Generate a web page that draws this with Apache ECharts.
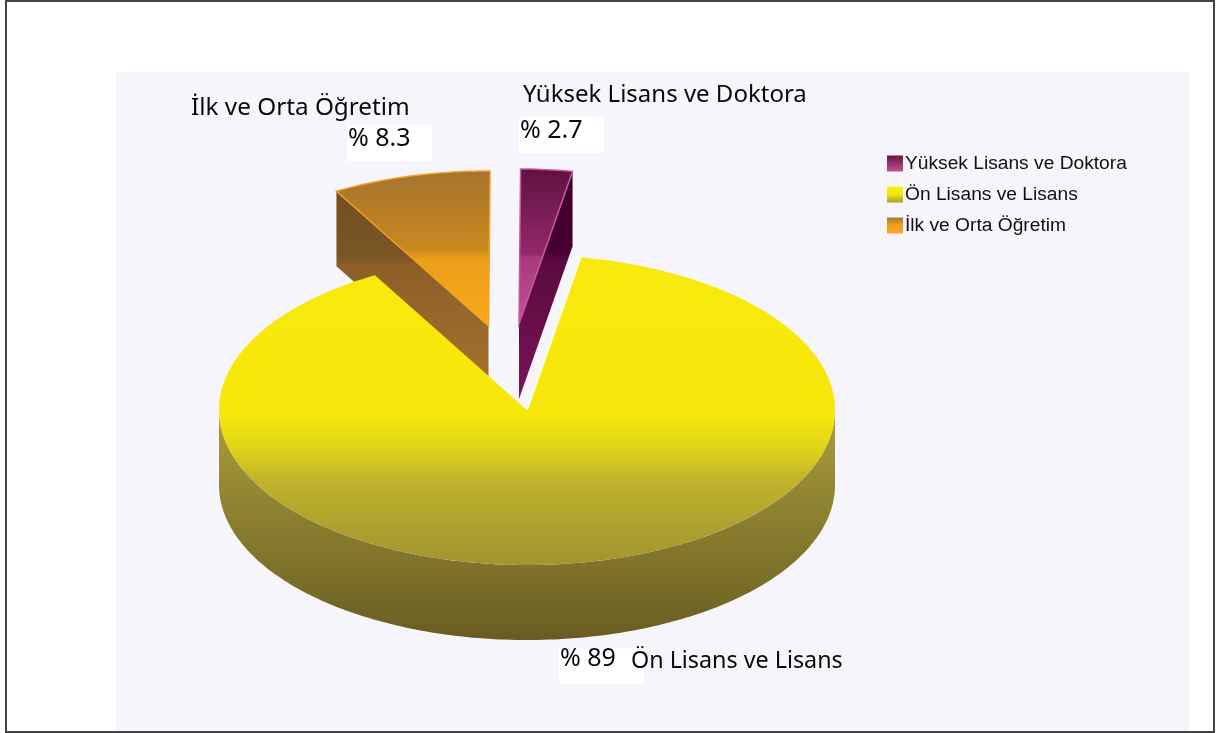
<!DOCTYPE html>
<html><head><meta charset="utf-8">
<style>html,body{margin:0;padding:0;background:#fff}#c{width:1218px;height:733px}</style>
<script src="https://cdn.jsdelivr.net/npm/echarts@6/dist/echarts.min.js"></script>
</head><body><div id="c"></div>
<script>
const categories = ['Yüksek Lisans ve Doktora', 'Ön Lisans ve Lisans', 'İlk ve Orta Öğretim'];
const values = [2.7, 89, 8.3];
const valueLabels = ['% 2.7', '% 89', '% 8.3'];

const rx = 308, ry = 155, depth = 75, startAngle = 0.3;
const centers = [[519, 324], [527, 410], [488.5, 326]];

function vgrad(y1, y2, stops) {
  return { type: 'linear', x: 0, y: y1, x2: 0, y2: y2, global: true,
    colorStops: stops.map(s => ({ offset: s[0], color: s[1] })) };
}
function localGrad(stops) {
  return { type: 'linear', x: 0, y: 0, x2: 0, y2: 1,
    colorStops: stops.map(s => ({ offset: s[0], color: s[1] })) };
}
const topFill = [
  vgrad(170, 323, [[0,'#5f1242'],[0.55,'#93296a'],[0.57,'#a8397b'],[1,'#c4509a']]),
  vgrad(255, 566, [[0,'#f8ea0c'],[0.51,'#f7e70a'],[0.62,'#e0d518'],[0.72,'#c2b42a'],[0.88,'#ada030'],[1,'#a29430']]),
  vgrad(172, 325, [[0,'#a5742f'],[0.5,'#c9871f'],[0.57,'#eb9e1b'],[1,'#fba91b']])
];
const sideFill = [
  vgrad(172, 400, [[0,'#3d0029'],[0.35,'#470030'],[0.38,'#5a0a3f'],[1,'#7a1458']]),
  vgrad(420, 642, [[0,'#a99c3c'],[0.4,'#8c8230'],[0.7,'#7c7029'],[1,'#675b22']]),
  vgrad(195, 400, [[0,'#735022'],[0.3,'#7a5524'],[0.35,'#8c5f28'],[1,'#a87330']])
];
const edgeColor = ['#c9589f', '#f8e80c', '#f2a31f'];
const legendFill = [
  localGrad([[0,'#661445'],[1,'#c0508f']]),
  localGrad([[0,'#fbf00a'],[0.5,'#f2e60c'],[1,'#a89c34']]),
  localGrad([[0,'#a9772f'],[0.5,'#f0a020'],[1,'#fba81c']])
];

const total = values.reduce((a, b) => a + b, 0);
function span(i) {
  let a = startAngle;
  for (let k = 0; k < i; k++) a += values[k] / total * 360;
  return [a, a + values[i] / total * 360];
}
function rim(c, deg, dy) {
  const r = deg * Math.PI / 180;
  return [c[0] + rx * Math.sin(r), c[1] - ry * Math.cos(r) + (dy || 0)];
}
function arc(c, a, b, dy) {
  const n = Math.max(2, Math.ceil(Math.abs(b - a)));
  const out = [];
  for (let k = 0; k <= n; k++) out.push(rim(c, a + (b - a) * k / n, dy));
  return out;
}
const poly = (points, style, z2) => ({ type: 'polygon', shape: { points }, style, z2 });

function renderSlice(i) {
  return function () {
    const [a, b] = span(i);
    const c = centers[i];
    const children = [];
    if (i === 1) {
      const lo = 90, hi = 270;
      const front = arc(c, lo, hi, 0).concat(arc(c, hi, lo, depth));
      children.push(poly(front, { fill: sideFill[1] }, 1));
      children.push(poly(arc(c, lo, hi, depth).concat(arc(c, hi, lo, depth - 1.5)), { fill: '#efe9c0' }, 0));
    } else {
      const edge = i === 0 ? b : a;
      const p = rim(c, edge);
      children.push(poly([c, p, [p[0], p[1] + depth], [c[0], c[1] + depth]],
        { fill: sideFill[i] }, 1));
    }
    children.push(poly([c].concat(arc(c, a, b)),
      { fill: topFill[i], stroke: i === 1 ? null : edgeColor[i], lineWidth: i === 1 ? 0 : 1.5 }, 2));
    if (i === 1) {
      children.push({ type: 'polyline', shape: { points: [c, rim(c, a)] },
        style: { stroke: '#fdfbe8', lineWidth: 2, fill: null }, z2: 3 });
    }
    return { type: 'group', children };
  };
}

const drawOrder = [2, 0, 1];
const series = drawOrder.map((i, idx) => ({
  type: 'custom',
  name: categories[i],
  coordinateSystem: 'none',
  z: 5 + idx,
  silent: true,
  itemStyle: { color: legendFill[i] },
  renderItem: renderSlice(i),
  data: [values[i]]
}));

const labelFont = '"Noto Sans", sans-serif';
const txt = (x, y, text, size) => ({
  type: 'text', x, y, z: 50, silent: true,
  style: { text, fill: '#0a0a0a', font: size + 'px ' + labelFont, align: 'left', verticalAlign: 'middle' }
});
const box = (x, y) => ({
  type: 'rect', z: 40, silent: true,
  shape: { x, y, width: 85, height: 36 }, style: { fill: '#ffffff' }
});

const chart = echarts.init(document.getElementById('c'), null, { renderer: 'canvas' });
chart.setOption({
  animation: false,
  backgroundColor: '#ffffff',
  legend: {
    orient: 'vertical', left: 882, top: 149,
    itemWidth: 16, itemHeight: 16, itemGap: 12, icon: 'rect',
    data: categories,
    selectedMode: false,
    textStyle: { fontFamily: '"Liberation Sans", Arial, sans-serif', fontSize: 19.2, color: '#111', padding: [0, 0, 0, -3] }
  },
  series,
  graphic: { elements: [
    { type: 'rect', z: -10, silent: true, shape: { x: 116, y: 72, width: 1074, height: 661 }, style: { fill: '#f5f5fb' } },
    { type: 'rect', z: 60, silent: true, shape: { x: 6, y: 1, width: 1208, height: 731 }, style: { fill: null, stroke: '#444', lineWidth: 2 } },
    box(347, 125), box(519, 117), box(559, 648),
    txt(191, 108, categories[2], 24.3), txt(348, 139, valueLabels[2], 25),
    txt(523, 95, categories[0], 24), txt(520, 131, valueLabels[0], 25),
    txt(631, 661, categories[1], 23.3), txt(560, 659, valueLabels[1], 25)
  ] }
});
</script></body></html>
